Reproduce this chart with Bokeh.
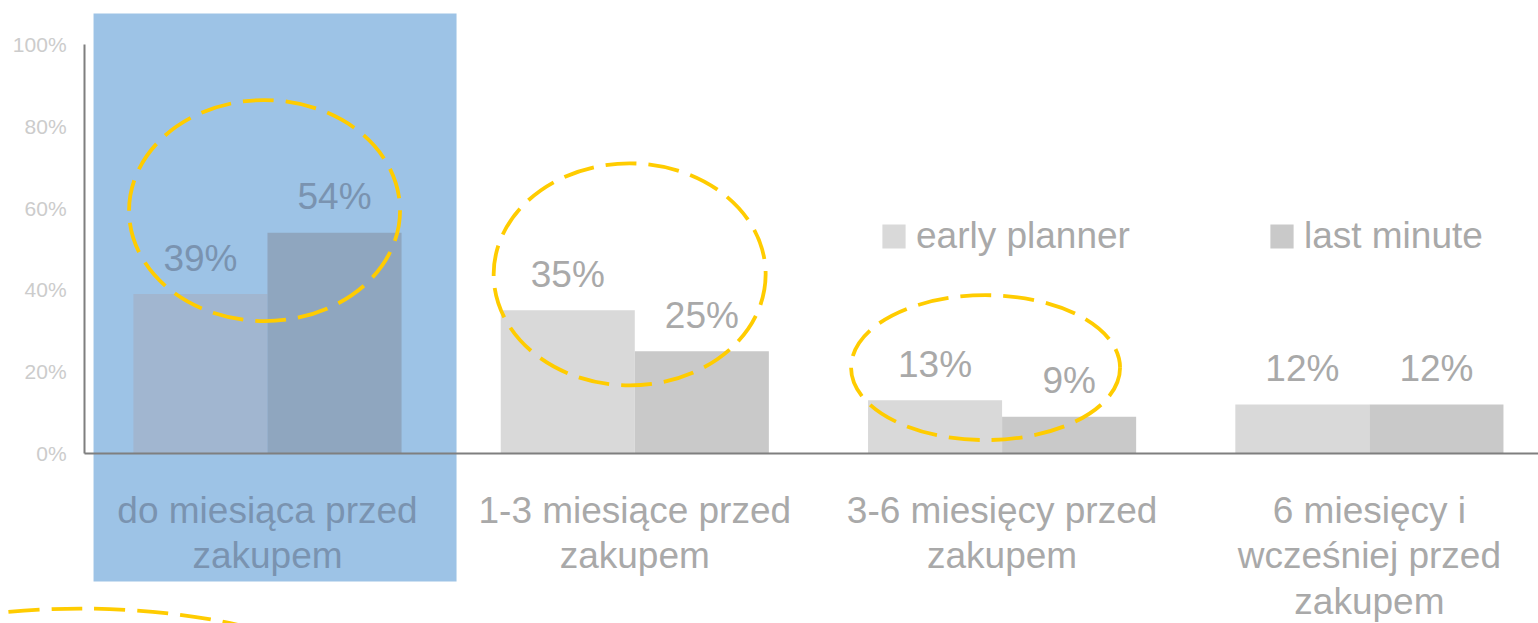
from bokeh.plotting import figure
from bokeh.models import (Range1d, FixedTicker, LinearAxis, BoxAnnotation, ColumnDataSource,
                          Legend, LegendItem, PrintfTickFormatter)
from bokeh.embed import file_html
from bokeh.resources import INLINE
from bokeh.core.properties import value

# ---------------- data ----------------
categories = ["do miesiąca przed\nzakupem",
              "1-3 miesiące przed\nzakupem",
              "3-6 miesięcy przed\nzakupem",
              "6 miesięcy i\nwcześniej przed\nzakupem"]
series_names = ["early planner", "last minute"]
early_planner = [39, 35, 13, 12]
last_minute = [54, 25, 9, 12]
y_ticks = [0, 20, 40, 60, 80, 100]
highlighted = 0

# ---------------- style / layout ----------------
FONT = "Liberation Sans"
BIG = "37px"
BAR_W = 0.365
OFF = BAR_W / 2
AXIS_X = -0.498
W, H = 1538, 623
X_RANGE = (-0.7269, 3.4604)
Y_RANGE = (-41.56, 110.76)

GRAY_EARLY, GRAY_LAST = "#D9D9D9", "#C9C9C9"
HL_EARLY, HL_LAST = "#A1B6D0", "#8FA6BF"
TXT, HL_TXT = "#A9A9A9", "#7A93B0"
HL_FILL = "#9DC3E6"
YELLOW = "#FFCC00"

# highlight rectangle extents (category-relative)
HL_HALF_LEFT, HL_HALF_RIGHT = 0.4736, 0.5147
HL_TOP, HL_BOTTOM = 107.6, -31.3

# annotation ellipses (x in category units, y in %, size in screen px)
ell_x = [-0.008, 0.986, 1.955, -0.509]
ell_y = [59.4, 43.8, 21.0, -64.8]
ell_w = [271, 272, 269, 600]
ell_h = [221, 222, 145, 220]

p = figure(width=W, height=H, x_range=Range1d(*X_RANGE), y_range=Range1d(*Y_RANGE),
           output_backend="svg", toolbar_location=None, min_border=0,
           x_axis_type=None, y_axis_type=None)
p.outline_line_color = None
p.background_fill_color = "white"
p.border_fill_color = "white"

p.add_layout(BoxAnnotation(left=highlighted - HL_HALF_LEFT, right=highlighted + HL_HALF_RIGHT,
                           bottom=HL_BOTTOM, top=HL_TOP, fill_color=HL_FILL, fill_alpha=1.0,
                           line_color=None, level="underlay"))

idx = list(range(len(categories)))
early_src = ColumnDataSource(dict(
    x=[i - OFF for i in idx], top=early_planner,
    color=[HL_EARLY if i == highlighted else GRAY_EARLY for i in idx],
    label=[f"{v}%" for v in early_planner],
    tcolor=[HL_TXT if i == highlighted else TXT for i in idx]))
last_src = ColumnDataSource(dict(
    x=[i + OFF for i in idx], top=last_minute,
    color=[HL_LAST if i == highlighted else GRAY_LAST for i in idx],
    label=[f"{v}%" for v in last_minute],
    tcolor=[HL_TXT if i == highlighted else TXT for i in idx]))

r_early = p.vbar(x="x", top="top", bottom=0, width=BAR_W, fill_color="color", line_color=None, source=early_src)
r_last = p.vbar(x="x", top="top", bottom=0, width=BAR_W, fill_color="color", line_color=None, source=last_src)

for src in (early_src, last_src):
    p.text(x="x", y="top", text="label", source=src, text_font=value(FONT), text_font_size=value(BIG),
           text_color="tcolor", text_align="center", text_baseline="middle", y_offset=-36)

p.ellipse(x=ell_x, y=ell_y, width=ell_w, height=ell_h, width_units="screen", height_units="screen",
          fill_color=None, line_color=YELLOW, line_width=3.8, line_dash="31 12")

# y axis
yaxis = LinearAxis(fixed_location=AXIS_X, bounds=(0, 100), ticker=FixedTicker(ticks=y_ticks),
                   formatter=PrintfTickFormatter(format="%d%%"),
                   major_tick_in=0, major_tick_out=0, minor_tick_in=0, minor_tick_out=0,
                   axis_line_color="#7F7F7F", axis_line_width=2,
                   major_label_text_color="#CCCCCC", major_label_text_font=FONT,
                   major_label_text_font_size="21px", major_label_standoff=18)
p.add_layout(yaxis, "left")

# x axes (category labels)
def cat_axis(ticks, color, line):
    ax = LinearAxis(fixed_location=0, bounds=(AXIS_X, X_RANGE[1]), ticker=FixedTicker(ticks=ticks),
                    major_label_overrides={i: categories[i] for i in ticks},
                    major_tick_in=0, major_tick_out=0, minor_tick_in=0, minor_tick_out=0,
                    axis_line_color="#7F7F7F" if line else None, axis_line_width=2,
                    major_label_text_color=color, major_label_text_font=FONT,
                    major_label_text_font_size=BIG, major_label_text_line_height=1.12,
                    major_label_standoff=36)
    p.add_layout(ax, "below")
    return ax

cat_axis([i for i in idx if i != highlighted], TXT, True)
cat_axis([highlighted], HL_TXT, False)

legend = Legend(items=[LegendItem(label=series_names[0], renderers=[r_early], index=1),
                       LegendItem(label=series_names[1], renderers=[r_last], index=1)],
                orientation="horizontal", location=(879, 366), glyph_width=29, glyph_height=30,
                label_standoff=8, spacing=137, padding=0, margin=0, border_line_color=None,
                background_fill_alpha=0, label_text_font=FONT, label_text_font_size=BIG,
                label_text_color=TXT)
p.add_layout(legend, "center")

open("out.html", "w").write(file_html(p, INLINE))
